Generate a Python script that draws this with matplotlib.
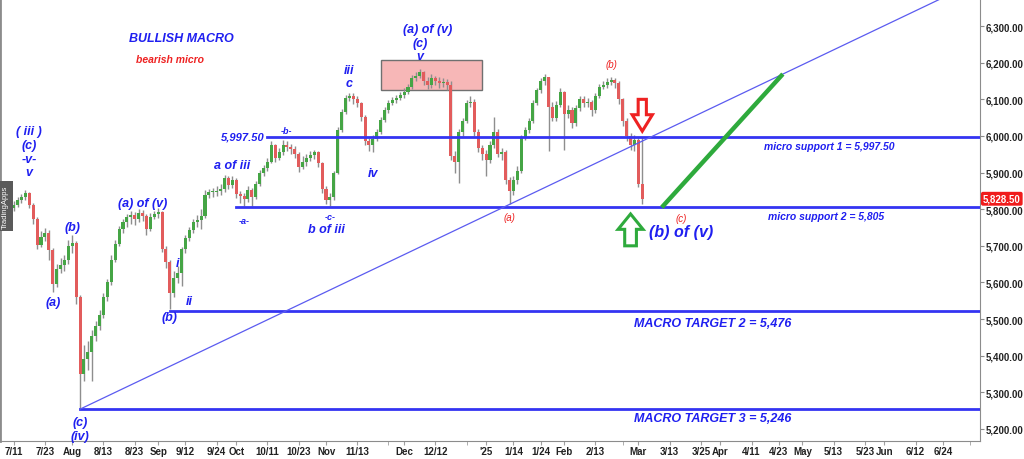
import numpy as np
import pandas as pd
import matplotlib
matplotlib.use("Agg")
import matplotlib.pyplot as plt
import matplotlib.transforms as mtransforms
from matplotlib.patches import Rectangle, FancyArrow

plt.rcParams['font.family'] = ['Liberation Sans', 'DejaVu Sans']

# trading calendar (exchange holidays removed)
holidays = ["2024-09-02", "2024-11-28", "2024-12-25", "2025-01-01", "2025-01-09",
            "2025-01-20", "2025-02-17", "2025-04-18", "2025-05-26", "2025-06-19",
            "2025-07-04"]
days = pd.bdate_range("2024-07-08", "2025-07-31")
days = days[~days.isin(pd.to_datetime(holidays))]

# daily candles from 2024-07-08
first_open = 5780
closes = [
    5788, 5795, 5803, 5812, 5826, 5834, 5843, 5812, 5772, 5702,
    5724, 5736, 5688, 5596, 5638, 5648, 5662, 5700, 5708, 5560,
    5350, 5392, 5410, 5455, 5482, 5510, 5560, 5600, 5662, 5706,
    5745, 5764, 5778, 5784, 5772, 5790, 5781, 5746, 5780, 5786,
    5792, 5690, 5655, 5572, 5612, 5625, 5690, 5720, 5742, 5765,
    5770, 5782, 5840, 5846, 5848, 5850, 5856, 5884, 5866, 5880,
    5842, 5836, 5828, 5852, 5834, 5870, 5900, 5912, 5930, 5974,
    5940, 5955, 5976, 5970, 5964, 5950, 5916, 5930, 5940, 5948,
    5955, 5926, 5856, 5826, 5832, 5898, 6015, 6066, 6104, 6110,
    6100, 6090, 6052, 5986, 5975, 5992, 6010, 6044, 6070, 6090,
    6098, 6104, 6112, 6120, 6134, 6158, 6165, 6174, 6150, 6140,
    6158, 6150, 6145, 6148, 6140, 5945, 5930, 6010, 6040, 6090,
    6094, 6012, 5966, 5950, 5935, 5975, 6010, 5952, 5956, 5880,
    5850, 5880, 5905, 5995, 6015, 6040, 6090, 6125, 6150, 6160,
    6080, 6050, 6085, 6120, 6060, 6070, 6035, 6075, 6100, 6090,
    6092, 6070, 6110, 6135, 6140, 6148, 6152, 6145, 6100, 6040,
    6000, 5975, 5990, 5870, 5828.5,
]
highs = [
    5800, 5806, 5812, 5822, 5833, 5842, 5852, 5848, 5818, 5778,
    5740, 5748, 5742, 5694, 5650, 5668, 5676, 5715, 5730, 5714,
    5565, 5430, 5440, 5470, 5495, 5525, 5572, 5610, 5675, 5715,
    5755, 5772, 5788, 5796, 5792, 5800, 5798, 5786, 5790, 5796,
    5802, 5796, 5700, 5662, 5630, 5645, 5698, 5730, 5752, 5774,
    5785, 5800, 5852, 5856, 5858, 5862, 5868, 5894, 5890, 5890,
    5886, 5850, 5845, 5864, 5858, 5878, 5908, 5922, 5940, 5986,
    5978, 5968, 5990, 5985, 5978, 5972, 5955, 5945, 5952, 5958,
    5962, 5960, 5930, 5862, 5845, 5905, 6025, 6074, 6112, 6118,
    6116, 6108, 6094, 6058, 5995, 6002, 6020, 6052, 6078, 6098,
    6106, 6112, 6120, 6130, 6142, 6166, 6175, 6182, 6178, 6160,
    6168, 6165, 6160, 6158, 6155, 6150, 5960, 6020, 6050, 6098,
    6110, 6100, 6020, 5975, 5962, 5985, 6052, 6018, 5968, 5962,
    5888, 5892, 5918, 6002, 6025, 6050, 6098, 6132, 6158, 6168,
    6162, 6092, 6096, 6130, 6124, 6085, 6078, 6084, 6110, 6108,
    6104, 6098, 6118, 6142, 6150, 6158, 6160, 6158, 6150, 6105,
    6048, 6008, 6002, 5995, 5998,
]
lows = [
    5772, 5781, 5790, 5796, 5805, 5818, 5826, 5804, 5760, 5690,
    5696, 5712, 5660, 5575, 5588, 5625, 5632, 5650, 5680, 5540,
    5254, 5330, 5360, 5332, 5440, 5470, 5502, 5550, 5594, 5655,
    5700, 5735, 5752, 5760, 5758, 5765, 5768, 5730, 5740, 5772,
    5776, 5682, 5640, 5527, 5560, 5598, 5590, 5680, 5712, 5735,
    5752, 5745, 5776, 5830, 5834, 5836, 5840, 5848, 5855, 5858,
    5830, 5818, 5808, 5820, 5810, 5828, 5862, 5890, 5905, 5925,
    5930, 5935, 5948, 5958, 5950, 5940, 5902, 5910, 5918, 5932,
    5938, 5915, 5845, 5815, 5808, 5825, 5895, 6010, 6060, 6095,
    6088, 6078, 6040, 5975, 5958, 5955, 5985, 6004, 6038, 6062,
    6084, 6090, 6098, 6105, 6114, 6128, 6150, 6158, 6138, 6128,
    6132, 6138, 6130, 6134, 6125, 5935, 5900, 5872, 6000, 6035,
    6078, 6000, 5955, 5935, 5890, 5925, 5968, 5942, 5935, 5868,
    5815, 5838, 5870, 5900, 5988, 6008, 6035, 6084, 6118, 6140,
    5958, 6040, 6042, 6078, 5962, 6048, 6022, 6028, 6068, 6078,
    6080, 6055, 6064, 6104, 6128, 6132, 6138, 6130, 6088, 6028,
    5985, 5962, 5958, 5860, 5815,
]

# horizontal levels: (price, start date)
level_micro1 = (5997.5, "2024-10-11")
level_micro2 = (5805, "2024-10-01")
level_target2 = (5522, "2024-09-06")
level_target3 = (5254, "2024-08-05")
trend_from = ("2024-08-05", 5254)
trend_to = ("2025-04-24", 6169)
projection = [("2025-03-11", 5805), ("2025-04-24", 6169)]
zone = ("2024-11-21", "2024-12-31", 6125, 6207)
last_price = 5828.5

tick_dates = ["2024-07-11", "2024-07-23", "2024-08-01", "2024-08-13", "2024-08-23",
              "2024-09-03", "2024-09-12", "2024-09-24", "2024-10-01", "2024-10-11",
              "2024-10-23", "2024-11-01", "2024-11-13", "2024-12-02", "2024-12-12",
              "2025-01-02", "2025-01-14", "2025-01-24", "2025-02-03", "2025-02-13",
              "2025-03-03", "2025-03-13", "2025-03-25", "2025-04-01", "2025-04-11",
              "2025-04-23", "2025-05-01", "2025-05-13", "2025-05-23", "2025-06-02",
              "2025-06-12", "2025-06-24"]
tick_labels = ["7/11", "7/23", "Aug", "8/13", "8/23", "Sep", "9/12", "9/24", "Oct",
               "10/11", "10/23", "Nov", "11/13", "Dec", "12/12", "'25", "1/14", "1/24",
               "Feb", "2/13", "Mar", "3/13", "3/25", "Apr", "4/11", "4/23", "May",
               "5/13", "5/23", "Jun", "6/12", "6/24"]
minor_dates = ["2024-11-25", "2024-12-24", "2025-02-25", "2025-07-03"]


def xi(d):
    return days.get_loc(pd.Timestamp(d))


BLUE = '#1f1ff0'
RED = '#ee2222'
GREEN = '#2eaa3c'

fig = plt.figure(figsize=(10.24, 4.6), dpi=100)
ax = fig.add_axes([0.0, 18 / 460, 980 / 1024, 442 / 460])
ax.set_xlim(-0.5, 250.5)
ax.set_ylim(5167, 6374)

# candles
c = np.array(closes, dtype=float)
o = np.array([first_open] + closes[:-1], dtype=float)
x = np.arange(len(c))
ax.vlines(x, lows, highs, color='#8e8e8e', lw=1.0, zorder=2)
body = np.maximum(np.abs(c - o), 3)
ax.bar(x, body, bottom=np.minimum(o, c), width=0.78,
       color=np.where(c >= o, '#45a545', '#e25c5c'), linewidth=0, zorder=2)

xmax = ax.get_xlim()[1]
for price, start in [level_micro1, level_micro2, level_target2, level_target3]:
    ax.plot([xi(start), xmax], [price, price], color='#3434f2', lw=2, zorder=3)

# trend line
x0, y0 = xi(trend_from[0]), trend_from[1]
x1, y1 = xi(trend_to[0]), trend_to[1]
slope = (y1 - y0) / (x1 - x0)
ax.plot([x0, xmax], [y0, y0 + slope * (xmax - x0)], color='#5b5bf0', lw=0.9, zorder=3)

# projection
ax.plot([xi(d) for d, _ in projection], [p for _, p in projection],
        color=GREEN, lw=3.2, solid_capstyle='butt', zorder=4)

# resistance zone
ax.add_patch(Rectangle((xi(zone[0]), zone[2]), xi(zone[1]) - xi(zone[0]), zone[3] - zone[2],
                       facecolor='#f7b7b7', edgecolor='#707070', lw=1, zorder=1))

# arrows
ax.add_patch(FancyArrow(xi("2025-03-04"), 6100, 0, -87, width=2.1, head_width=5.2,
                        head_length=45, length_includes_head=True,
                        fc='white', ec=RED, lw=2.2, zorder=5))
ax.add_patch(FancyArrow(xi("2025-02-27"), 5700, 0, 87, width=3.0, head_width=6.4,
                        head_length=42, length_includes_head=True,
                        fc='white', ec=GREEN, lw=2.2, zorder=5))

# wave labels
bi = dict(color=BLUE, fontweight='bold', fontstyle='italic', ha='center', va='center', zorder=6)
waves = [
    ("( iii )", "2024-07-17", 6013, 9), ("(c)", "2024-07-17", 5975, 9),
    ("-v-", "2024-07-17", 5937, 9), ("v", "2024-07-17", 5901, 9),
    ("(b)", "2024-08-01", 5751, 9), ("(a)", "2024-07-25", 5547, 9),
    ("(c)", "2024-08-05", 5219, 9), ("(iv)", "2024-08-05", 5181, 9),
    ("(a) of (v)", "2024-08-27", 5817, 9), ("i", "2024-09-10", 5653, 9),
    ("ii", "2024-09-13", 5549, 9), ("(b)", "2024-09-06", 5506, 9),
    ("a of iii", "2024-09-30", 5921, 9), ("-a-", "2024-10-03", 5768, 6.5),
    ("-b-", "2024-10-18", 6016, 6.5), ("-c-", "2024-11-04", 5779, 6.5),
    ("b of iii", "2024-11-01", 5746, 9), ("iii", "2024-11-11", 6180, 9),
    ("c", "2024-11-11", 6144, 9), ("iv", "2024-11-19", 5899, 9),
    ("(a) of (v)", "2024-12-10", 6292, 9), ("(c)", "2024-12-06", 6254, 9),
    ("v", "2024-12-06", 6218, 9),
    ("(b) of (v)", "2025-03-18", 5738, 11.5),
    ("BULLISH MACRO", "2024-09-11", 6267, 9),
    ("micro support 1 = 5,997.50", "2025-05-12", 5972, 7.5),
    ("micro support 2 = 5,805", "2025-05-09", 5781, 7.5),
    ("MACRO TARGET 2 = 5,476", "2025-03-28", 5489, 9),
    ("MACRO TARGET 3 = 5,246", "2025-03-28", 5230, 9),
]
for t, d, p, s in waves:
    ax.text(xi(d), p, t, fontsize=s, **bi)

ax.text(xi("2024-10-11") - 0.6, level_micro1[0], "5,997.50", fontsize=8, color=BLUE,
        fontweight='bold', fontstyle='italic', ha='right', va='center', zorder=6)

ri = dict(color=RED, fontstyle='italic', ha='center', va='center', zorder=6)
for t, d, p in [("(b)", "2025-02-20", 6196), ("(a)", "2025-01-13", 5779),
                ("(c)", "2025-03-18", 5776)]:
    ax.text(xi(d), p, t, fontsize=7, **ri)
ax.text(xi("2024-09-06"), 6210, "bearish micro", fontsize=7.5, fontweight='bold', **ri)

# axes styling
ax.spines['top'].set_visible(False)
for s in ['left', 'right', 'bottom']:
    ax.spines[s].set_color('#8c8c8c')
ax.spines['left'].set_linewidth(2)
ax.yaxis.tick_right()
yt = np.arange(5200, 6301, 100)
ax.set_yticks(yt)
ax.set_yticklabels([f"{v:,.2f}" for v in yt])
ax.tick_params(axis='y', length=3, color='#8c8c8c', labelsize=7, labelcolor='#222222', pad=1)
for lab in ax.get_yticklabels():
    lab.set_fontweight('bold')
ax.set_xticks([xi(d) for d in tick_dates])
ax.set_xticklabels(tick_labels)
ax.set_xticks([xi(d) for d in minor_dates], minor=True)
ax.tick_params(axis='x', which='both', length=3, color='#a0a0a0', labelsize=7,
               labelcolor='#222222', pad=0.5)
for lab in ax.get_xticklabels():
    lab.set_fontweight('bold')

# last price marker
trans = mtransforms.blended_transform_factory(ax.transAxes, ax.transData)
ax.text(1.003, last_price, f"{last_price:,.2f}", transform=trans, ha='left', va='center',
        fontsize=7, fontweight='bold', color='white', zorder=7,
        bbox=dict(boxstyle='round,pad=0.2', fc='#f01c1c', ec='none'))

# vendor tag
fig.text(0.0055, 1 - 207 / 460, "TradingApps", rotation=90, ha='center', va='center',
         fontsize=5.5, color='white',
         bbox=dict(facecolor='#5a5a5a', edgecolor='none', pad=2.5))

fig.savefig("out.png", dpi=100, facecolor='white')
